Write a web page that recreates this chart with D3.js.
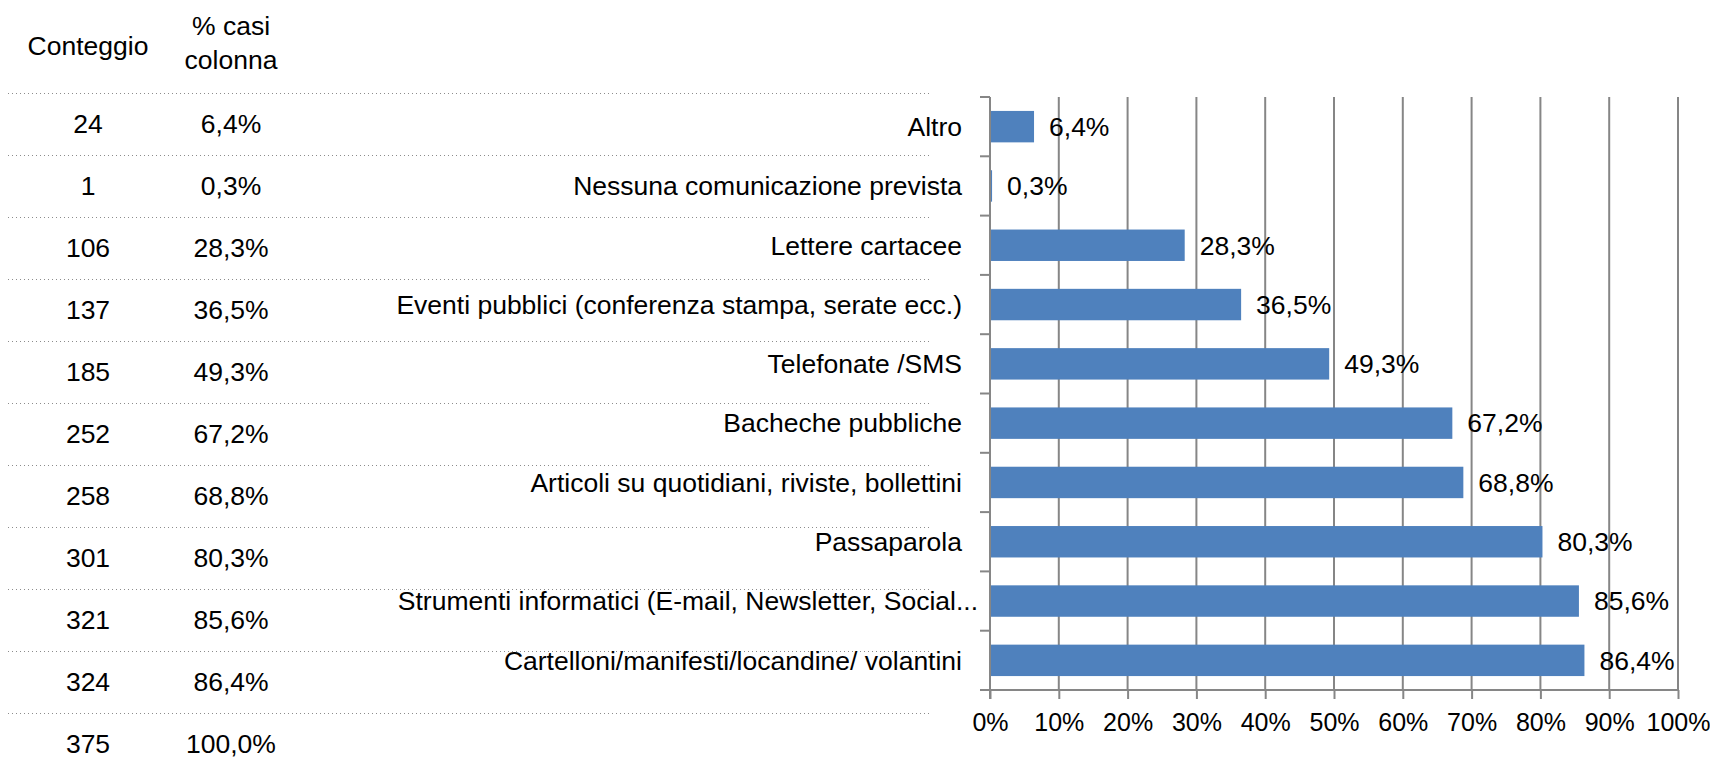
<!DOCTYPE html>
<html>
<head>
<meta charset="utf-8">
<script src="https://cdn.jsdelivr.net/npm/d3@7"></script>
<style>
  html, body { margin: 0; padding: 0; background: #fff; }
  svg { display: block; }
  text { font-family: "Liberation Sans", Arial, sans-serif; fill: #000; }
</style>
</head>
<body>
<svg id="chart" width="1710" height="758"></svg>
<script>
// ---- data (top to bottom as shown) ----
const categories = [
  "Altro",
  "Nessuna comunicazione prevista",
  "Lettere cartacee",
  "Eventi pubblici (conferenza stampa, serate ecc.)",
  "Telefonate /SMS",
  "Bacheche pubbliche",
  "Articoli su quotidiani, riviste, bollettini",
  "Passaparola",
  "Strumenti informatici (E-mail, Newsletter, Social...",
  "Cartelloni/manifesti/locandine/ volantini"
];
const counts = [24, 1, 106, 137, 185, 252, 258, 301, 321, 324];
const percents = [6.4, 0.3, 28.3, 36.5, 49.3, 67.2, 68.8, 80.3, 85.6, 86.4];
const totalCount = 375;
const totalPercent = 100.0;
const tableHeaders = [["Conteggio"], ["% casi", "colonna"]];
const xTicks = [0, 10, 20, 30, 40, 50, 60, 70, 80, 90, 100];

const fmtPct = v => v.toFixed(1).replace(".", ",") + "%";

const svg = d3.select("#chart");

// ---- layout ----
const plot = { left: 990, right: 1678, top: 97, bottom: 690 };
const table = { col1: 88, col2: 231, firstLine: 93, rowH: 62, lineX0: 8, lineX1: 930 };
const gridColor = "#868686";
const tableFont = 26.5, catFont = 26.5, valFont = 26.5, tickFont = 25;

const x = d3.scaleLinear().domain([0, 100]).range([plot.left, plot.right]);
const y = d3.scaleBand().domain(categories).range([plot.top, plot.bottom])
  .paddingInner(0.47).paddingOuter(0.235);
const step = y.step();
const boundaries = d3.range(categories.length + 1).map(i => plot.top + i * step);

// ---- table: dotted separators ----
const rowLines = d3.range(categories.length + 1).map(i => table.firstLine + i * table.rowH);
svg.append("g").selectAll("line").data(rowLines).join("line")
  .attr("x1", table.lineX0).attr("x2", table.lineX1)
  .attr("y1", d => d + 0.5).attr("y2", d => d + 0.5)
  .attr("stroke", "#8c8c8c").attr("stroke-width", 1)
  .attr("stroke-dasharray", "1,3");

// table headers
svg.append("text").attr("x", table.col1).attr("y", 55)
  .attr("text-anchor", "middle").attr("font-size", tableFont).text(tableHeaders[0][0]);
svg.append("text").attr("x", table.col2).attr("y", 35)
  .attr("text-anchor", "middle").attr("font-size", tableFont).text(tableHeaders[1][0]);
svg.append("text").attr("x", table.col2).attr("y", 69)
  .attr("text-anchor", "middle").attr("font-size", tableFont).text(tableHeaders[1][1]);

// table rows
const rowsData = counts.map((c, i) => ({ c, p: percents[i] }))
  .concat([{ c: totalCount, p: totalPercent }]);
const rowG = svg.append("g").selectAll("g").data(rowsData).join("g")
  .attr("transform", (d, i) => `translate(0,${table.firstLine + i * table.rowH + table.rowH / 2})`);
rowG.append("text").attr("x", table.col1).attr("dy", "0.35em")
  .attr("text-anchor", "middle").attr("font-size", tableFont).text(d => d.c);
rowG.append("text").attr("x", table.col2).attr("dy", "0.35em")
  .attr("text-anchor", "middle").attr("font-size", tableFont).text(d => fmtPct(d.p));

// ---- gridlines ----
svg.append("g").selectAll("line").data(xTicks.slice(1)).join("line")
  .attr("x1", d => x(d)).attr("x2", d => x(d))
  .attr("y1", plot.top).attr("y2", plot.bottom)
  .attr("stroke", gridColor).attr("stroke-width", 2);

// ---- bars ----
svg.append("g").selectAll("rect").data(categories).join("rect")
  .attr("x", x(0))
  .attr("y", d => y(d))
  .attr("width", (d, i) => x(percents[i]) - x(0))
  .attr("height", y.bandwidth())
  .attr("fill", "#4F81BD");

// ---- value labels ----
svg.append("g").selectAll("text").data(categories).join("text")
  .attr("x", (d, i) => x(percents[i]) + 15)
  .attr("y", d => y(d) + y.bandwidth() / 2)
  .attr("dy", "0.35em")
  .attr("font-size", valFont)
  .text((d, i) => fmtPct(percents[i]));

// ---- category labels ----
svg.append("g").selectAll("text").data(categories).join("text")
  .attr("x", (d, i) => i === 8 ? 978 : 962)
  .attr("y", d => y(d) + y.bandwidth() / 2)
  .attr("dy", "0.35em")
  .attr("text-anchor", "end")
  .attr("font-size", catFont)
  .text(d => d);

// ---- axes ----
// left axis line + ticks at category boundaries
svg.append("line").attr("x1", plot.left).attr("x2", plot.left)
  .attr("y1", plot.top).attr("y2", plot.bottom + 9)
  .attr("stroke", gridColor).attr("stroke-width", 2);
svg.append("g").selectAll("line").data(boundaries).join("line")
  .attr("x1", plot.left - 10).attr("x2", plot.left)
  .attr("y1", d => d).attr("y2", d => d)
  .attr("stroke", gridColor).attr("stroke-width", 2);

// bottom axis
const xAxis = d3.axisBottom(x).tickValues(xTicks).tickSize(9).tickPadding(14)
  .tickFormat(d => d + "%");
const gx = svg.append("g").attr("transform", `translate(0,${plot.bottom})`).call(xAxis);
gx.select(".domain").attr("stroke", gridColor).attr("stroke-width", 2)
  .attr("d", `M${plot.left - 10},0H${plot.right}`);
gx.selectAll(".tick line").attr("stroke", gridColor).attr("stroke-width", 2);
gx.selectAll(".tick text").attr("font-size", tickFont).attr("fill", "#000")
  .attr("font-family", "Liberation Sans, Arial, sans-serif");
</script>
</body>
</html>
